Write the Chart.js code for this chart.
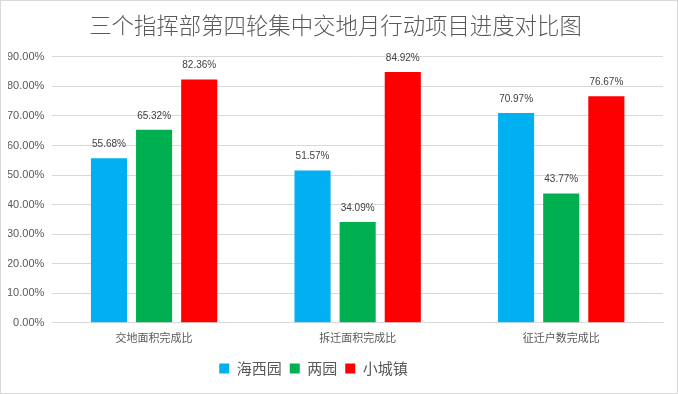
<!DOCTYPE html>
<html><head><meta charset="utf-8">
<script src="https://cdn.jsdelivr.net/npm/chart.js@4"></script>
<style>
html,body{margin:0;padding:0;background:#fff;}
#wrap{position:relative;width:676px;height:392px;border:1px solid #d9d9d9;}
</style></head>
<body><div id="wrap"><canvas id="c" width="676" height="392"></canvas></div>
<script>
const categories = ["交地面积完成比", "拆迁面积完成比", "征迁户数完成比"];
const seriesNames = ["海西园", "两园", "小城镇"];
const haixiyuan = [55.68, 51.57, 70.97];
const liangyuan = [65.32, 34.09, 43.77];
const xiaochengzhen = [82.36, 84.92, 76.67];
const yTicks = [0, 10, 20, 30, 40, 50, 60, 70, 80, 90];
const colors = ["#00B0F0", "#00B050", "#FF0000"];

const labelPlugin = {
  id: 'valLabels',
  afterDatasetsDraw(chart) {
    const ctx = chart.ctx;
    ctx.save();
    ctx.font = '10px "Liberation Sans", Arial, sans-serif';
    ctx.fillStyle = '#404040';
    ctx.textAlign = 'center';
    ctx.textBaseline = 'middle';
    chart.data.datasets.forEach((ds, i) => {
      chart.getDatasetMeta(i).data.forEach((bar, j) => {
        ctx.fillText(ds.data[j].toFixed(2) + '%', bar.x, bar.y - 14);
      });
    });
    ctx.restore();
  }
};

const legendShift = {
  id: 'legendShift',
  beforeDraw(chart) {
    const lg = chart.legend;
    if (lg && !lg._shifted) {
      lg.left -= 22; lg.right -= 22; lg._shifted = true;
    }
  }
};

new Chart(document.getElementById('c'), {
  type: 'bar',
  data: {
    labels: categories,
    datasets: [
      { label: seriesNames[0], data: haixiyuan, backgroundColor: colors[0] },
      { label: seriesNames[1], data: liangyuan, backgroundColor: colors[1] },
      { label: seriesNames[2], data: xiaochengzhen, backgroundColor: colors[2] }
    ]
  },
  options: {
    responsive: false,
    animation: false,
    devicePixelRatio: 1,
    layout: { padding: { left: 7, right: 14, top: 4, bottom: 7 } },
    datasets: { bar: { categoryPercentage: 0.665, barPercentage: 0.8 } },
    plugins: {
      title: {
        display: true,
        text: '三个指挥部第四轮集中交地月行动项目进度对比图',
        color: '#595959',
        font: { size: 22.4, family: '"Noto Sans CJK SC", sans-serif', weight: 300 },
        padding: { top: 7, bottom: 18 }
      },
      legend: {
        position: 'bottom',
        labels: {
          color: '#595959',
          boxWidth: 10, boxHeight: 10,
          padding: 8,
          font: { size: 15, family: '"Noto Sans CJK SC", sans-serif' }
        }
      },
      tooltip: { enabled: false }
    },
    scales: {
      x: {
        grid: { display: false, drawTicks: false },
        border: { color: '#d9d9d9' },
        ticks: { color: '#595959', padding: 8, font: { size: 11, family: '"Noto Sans CJK SC", sans-serif' } },
        afterFit(axis) { axis.height += 1; }
      },
      y: {
        min: 0, max: 90,
        afterBuildTicks(axis) { axis.ticks = yTicks.map(v => ({ value: v })); },
        grid: { color: '#d9d9d9', drawTicks: false },
        border: { display: false },
        ticks: {
          color: '#595959', padding: 8,
          font: { size: 11, family: '"Liberation Sans", Arial, sans-serif' },
          callback: v => v.toFixed(2) + '%'
        },
        afterFit(axis) { axis.width -= 9; }
      }
    }
  },
  plugins: [labelPlugin, legendShift]
});
</script></body></html>
